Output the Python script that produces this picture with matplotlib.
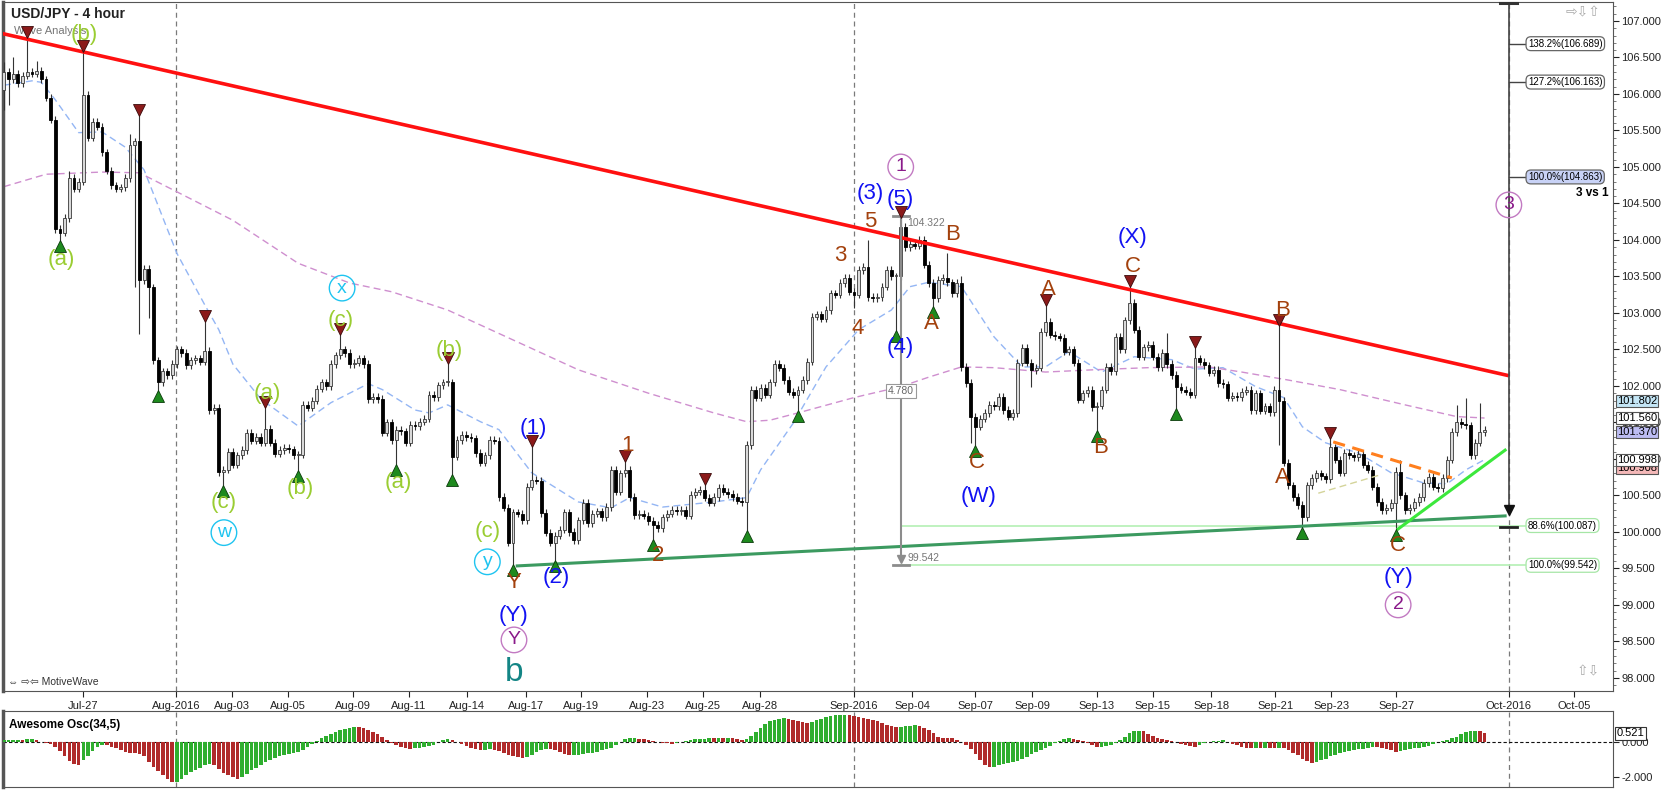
import numpy as np
import matplotlib
matplotlib.use('Agg')
import matplotlib.pyplot as plt
from matplotlib.ticker import FormatStrFormatter, MultipleLocator
from matplotlib.transforms import blended_transform_factory, offset_copy

## Arial-like face, DejaVu as fallback for the little arrow glyphs
plt.rcParams['font.family'] = ['Liberation Sans', 'DejaVu Sans']

## ---------------- values (4 hour bars) ----------------
first_open = 106.05
closes = [
    106.30, 106.20, 106.28, 106.15, 106.25, 106.30, 106.28, 106.32, 106.20, 105.95,
    105.65, 104.15, 104.10, 104.30, 104.85, 104.70, 104.80, 105.99, 105.40, 105.62,
    105.55, 105.20, 104.95, 104.75, 104.70, 104.72, 104.85, 105.30, 105.35, 103.45,
    103.60, 103.35, 102.35, 102.05, 102.20, 102.15, 102.30, 102.50, 102.45, 102.28,
    102.35, 102.38, 102.33, 102.48, 101.67, 101.70, 100.82, 100.85, 101.10, 100.92,
    101.05, 101.12, 101.36, 101.25, 101.30, 101.22, 101.41, 101.22, 101.07, 101.12,
    101.15, 101.13, 101.05, 101.06, 101.74, 101.70, 101.80, 101.96, 102.05, 102.00,
    102.30, 102.42, 102.50, 102.45, 102.30, 102.32, 102.38, 102.30, 101.82, 101.85,
    101.82, 101.36, 101.50, 101.26, 101.40, 101.38, 101.22, 101.47, 101.45, 101.51,
    101.55, 101.88, 101.85, 102.01, 102.05, 102.05, 101.03, 101.26, 101.33, 101.30,
    101.28, 101.08, 100.95, 101.05, 101.26, 101.25, 100.48, 100.33, 99.85, 100.27,
    100.25, 100.16, 100.62, 100.71, 100.70, 100.26, 99.99, 99.85, 99.95, 100.03,
    100.27, 100.00, 99.89, 100.16, 100.40, 100.12, 100.25, 100.28, 100.20, 100.34,
    100.85, 100.55, 100.80, 100.85, 100.48, 100.23, 100.25, 100.22, 100.15, 100.10,
    100.05, 100.20, 100.25, 100.30, 100.28, 100.30, 100.22, 100.51, 100.55, 100.58,
    100.47, 100.40, 100.48, 100.60, 100.55, 100.52, 100.48, 100.43, 100.41, 101.19,
    101.95, 101.84, 101.97, 101.88, 102.05, 102.30, 102.25, 102.08, 101.92, 101.88,
    101.95, 102.08, 102.33, 102.95, 102.98, 102.92, 103.04, 103.27, 103.25, 103.41,
    103.48, 103.29, 103.25, 103.59, 103.63, 103.22, 103.20, 103.22, 103.36, 103.59,
    103.50, 103.50, 104.18, 103.90, 103.95, 103.92, 104.00, 103.66, 103.41, 103.20,
    103.45, 103.48, 103.42, 103.27, 103.41, 102.26, 102.04, 101.58, 101.44, 101.55,
    101.63, 101.74, 101.72, 101.85, 101.67, 101.58, 101.63, 102.32, 102.52, 102.32,
    102.22, 102.25, 102.74, 102.88, 102.70, 102.68, 102.66, 102.47, 102.50, 102.32,
    101.81, 101.90, 101.95, 101.71, 101.73, 101.95, 102.26, 102.20, 102.67, 102.50,
    102.90, 103.14, 102.77, 102.40, 102.53, 102.56, 102.40, 102.26, 102.45, 102.30,
    102.15, 101.99, 101.95, 101.92, 101.88, 102.38, 102.33, 102.28, 102.18, 102.22,
    102.04, 102.02, 101.84, 101.86, 101.85, 101.92, 101.95, 101.67, 101.90, 101.66,
    101.72, 101.64, 101.95, 101.80, 100.95, 100.64, 100.48, 100.37, 100.20, 100.64,
    100.74, 100.80, 100.76, 100.72, 101.16, 100.99, 100.81, 101.08, 101.05, 101.02,
    101.07, 100.92, 100.85, 100.62, 100.41, 100.30, 100.33, 100.40, 100.82, 100.50,
    100.30, 100.33, 100.41, 100.48, 100.67, 100.75, 100.62, 100.60, 100.74, 100.99,
    101.37, 101.51, 101.48, 101.46, 101.05, 101.22, 101.37, 101.40,
]

## long wicks that stand out (bar index: price)
high_wicks = {0: 106.44, 2: 106.50, 5: 106.79, 7: 106.45, 14: 104.95, 17: 106.60,
              27: 105.45, 29: 105.72, 43: 102.90, 56: 101.72, 72: 102.72, 95: 102.32,
              113: 101.18, 130: 100.87, 133: 100.98, 150: 100.66, 160: 102.00,
              173: 103.00, 185: 104.00, 192: 104.32, 202: 103.82, 205: 103.50,
              223: 103.12, 241: 103.38, 249: 102.72, 255: 102.54, 273: 102.84,
              284: 101.30, 298: 100.89, 299: 100.99, 311: 101.74, 313: 101.84, 316: 101.77}
low_wicks = {0: 105.78, 1: 105.85, 12: 103.98, 28: 103.36, 29: 102.71, 31: 102.93,
             33: 101.92, 47: 100.62, 63: 100.82, 84: 100.91, 96: 100.77, 109: 99.54,
             118: 99.59, 139: 99.88, 159: 100.01, 170: 101.65, 182: 103.07, 191: 102.75,
             199: 103.08, 207: 101.22, 208: 101.17, 220: 101.99, 234: 101.38, 251: 101.68,
             273: 101.19, 278: 100.05, 298: 100.02}

## moving averages, read at a number of bars
fast_ma_bar = [0, 6, 8, 11, 16, 21, 26, 30, 37, 43, 46, 49, 55, 63, 70, 78, 81, 88, 91, 95,
               102, 106, 113, 123, 130, 134, 141, 152, 159, 162, 169, 176, 183, 190, 194, 198,
               205, 212, 218, 223, 228, 235, 242, 250, 255, 261, 268, 274, 278, 283, 290, 297,
               304, 309, 313, 317]
fast_ma = [106.12, 106.18, 106.16, 105.92, 105.47, 105.48, 105.27, 104.96, 103.82, 103.11,
           102.77, 102.30, 101.82, 101.45, 101.77, 102.03, 101.95, 101.67, 101.63, 101.74,
           101.51, 101.40, 100.81, 100.41, 100.33, 100.47, 100.34, 100.41, 100.47, 100.85,
           101.49, 102.26, 102.77, 103.04, 103.36, 103.42, 103.36, 102.67, 102.26, 102.26,
           102.47, 102.19, 102.40, 102.36, 102.23, 102.25, 101.99, 101.84, 101.44, 101.22,
           101.08, 100.81, 100.67, 100.66, 100.85, 100.99]
slow_ma_bar = [0, 9, 21, 29, 37, 49, 63, 74, 83, 95, 109, 123, 138, 152, 159, 164, 170, 182,
               192, 198, 205, 212, 223, 233, 245, 258, 265, 275, 286, 300, 311, 317]
slow_ma = [104.73, 104.90, 104.93, 104.92, 104.66, 104.27, 103.68, 103.41, 103.29, 103.04,
           102.63, 102.22, 101.90, 101.63, 101.51, 101.53, 101.63, 101.84, 101.99, 102.12,
           102.26, 102.25, 102.19, 102.22, 102.25, 102.26, 102.19, 102.08, 101.95, 101.74,
           101.58, 101.56]

## Awesome Oscillator (34,5), one value per bar
awesome = [
    0.12, 0.14, 0.15, 0.16, 0.15, 0.18, 0.20, 0.15, 0.05, -0.03,
    -0.12, -0.28, -0.52, -0.80, -1.06, -1.24, -1.33, -1.05, -0.78, -0.52,
    -0.28, -0.15, -0.17, -0.24, -0.33, -0.43, -0.55, -0.61, -0.64, -0.70,
    -0.78, -1.12, -1.43, -1.68, -1.92, -2.15, -2.32, -2.28, -2.10, -1.88,
    -1.72, -1.60, -1.47, -1.34, -1.23, -1.32, -1.55, -1.78, -1.92, -2.03,
    -2.12, -2.02, -1.85, -1.63, -1.47, -1.30, -1.14, -1.01, -0.89, -0.79,
    -0.74, -0.68, -0.62, -0.57, -0.46, -0.28, -0.10, 0.06, 0.23, 0.38,
    0.49, 0.58, 0.69, 0.79, 0.85, 0.88, 0.87, 0.82, 0.70, 0.58,
    0.47, 0.29, 0.11, -0.02, -0.16, -0.27, -0.33, -0.36, -0.34, -0.31,
    -0.29, -0.22, -0.14, 0.00, 0.12, 0.19, 0.14, 0.01, -0.12, -0.22,
    -0.30, -0.38, -0.43, -0.42, -0.41, -0.42, -0.48, -0.60, -0.72, -0.80,
    -0.86, -0.88, -0.83, -0.72, -0.58, -0.47, -0.38, -0.40, -0.45, -0.56,
    -0.68, -0.75, -0.74, -0.71, -0.66, -0.62, -0.59, -0.54, -0.47, -0.40,
    -0.31, -0.15, 0.02, 0.17, 0.25, 0.27, 0.21, 0.17, 0.13, 0.09,
    0.04, -0.02, -0.06, -0.07, -0.01, 0.05, 0.10, 0.14, 0.17, 0.20,
    0.22, 0.24, 0.23, 0.25, 0.24, 0.25, 0.24, 0.21, 0.14, 0.20,
    0.35, 0.58, 0.85, 1.08, 1.22, 1.31, 1.37, 1.41, 1.38, 1.32,
    1.26, 1.18, 1.13, 1.20, 1.28, 1.37, 1.46, 1.52, 1.56, 1.59,
    1.61, 1.60, 1.55, 1.47, 1.41, 1.37, 1.32, 1.24, 1.14, 1.02,
    0.93, 0.88, 0.92, 0.94, 0.96, 0.98, 0.95, 0.84, 0.70, 0.52,
    0.34, 0.26, 0.25, 0.24, 0.16, 0.02, -0.15, -0.40, -0.69, -1.05,
    -1.33, -1.45, -1.43, -1.33, -1.25, -1.18, -1.14, -1.08, -0.97, -0.83,
    -0.70, -0.58, -0.45, -0.32, -0.20, -0.06, 0.07, 0.18, 0.23, 0.18,
    0.14, 0.07, -0.04, -0.15, -0.28, -0.27, -0.20, -0.13, -0.02, 0.12,
    0.33, 0.52, 0.64, 0.68, 0.65, 0.50, 0.37, 0.24, 0.17, 0.11,
    0.06, 0.00, -0.07, -0.13, -0.20, -0.25, -0.17, -0.06, 0.02, 0.08,
    0.10, 0.11, 0.01, -0.09, -0.18, -0.27, -0.31, -0.32, -0.31, -0.32,
    -0.31, -0.32, -0.33, -0.31, -0.34, -0.46, -0.60, -0.76, -0.94, -1.08,
    -1.17, -1.12, -1.03, -0.94, -0.82, -0.73, -0.63, -0.56, -0.50, -0.45,
    -0.40, -0.36, -0.30, -0.24, -0.25, -0.30, -0.38, -0.47, -0.54, -0.52,
    -0.45, -0.39, -0.35, -0.32, -0.28, -0.19, -0.09, 0.02, 0.09, 0.16,
    0.24, 0.34, 0.46, 0.58, 0.66, 0.68, 0.64, 0.521,
]

## date axis (bar index of each label)
date_bars = [16.9, 36.8, 48.8, 60.8, 74.7, 86.7, 99.1, 111.8, 123.6, 137.7, 149.7, 161.9,
             182.0, 194.4, 207.9, 220.1, 234.0, 246.0, 258.5, 272.2, 284.2, 298.1, 322.2, 336.2]
date_labels = ['Jul-27', 'Aug-2016', 'Aug-03', 'Aug-05', 'Aug-09', 'Aug-11', 'Aug-14',
               'Aug-17', 'Aug-19', 'Aug-23', 'Aug-25', 'Aug-28', 'Sep-2016', 'Sep-04',
               'Sep-07', 'Sep-09', 'Sep-13', 'Sep-15', 'Sep-18', 'Sep-21', 'Sep-23',
               'Sep-27', 'Oct-2016', 'Oct-05']
month_bars = [36.8, 182.0, 322.2]

## swing markers
top_marks = [5, 17, 29, 43, 56, 72, 95, 113, 133, 150, 192, 223, 241, 255, 273, 284]
bottom_marks = [12, 33, 47, 63, 84, 96, 109, 118, 139, 159, 170, 191, 199, 208, 234, 251, 278, 298]

## fibonacci projection / retracement
fib_names = ['138.2%', '127.2%', '100.0%']
fib_levels = [106.689, 106.163, 104.863]
retr_names = ['88.6%', '100.0%']
retr_levels = [100.087, 99.542]
swing_hi = 104.322
swing_lo = 99.542

## trend lines: (bar0, price0, bar1, price1)
red_line = [-0.9, 106.836, 322.2, 102.14]
support_line = [109.9, 99.534, 321.4, 100.219]
rising_line = [298.5, 100.04, 321.4, 101.12]
orange_line = [284.6, 101.233, 310.0, 100.74]
olive_line = [281.4, 100.53, 294.6, 100.78]

## price tags on the right axis
tag_values = ['100.908', '100.998', '101.802', '101.560', '101.370']
tag_prices = [100.87, 100.99, 101.79, 101.56, 101.37]
tag_colors = ['#f4b8b8', 'white', '#c4e6f6', 'white', '#bcbcf2']

## ---------------- wave labels ----------------
YG = '#9acd32'
CY = '#1ec4f0'
BR = '#a3410d'
BL = '#1212f2'
PU = '#8a1a8a'
wave_text = [
    ('(b)', 17.1, 106.81, YG), ('(a)', 12.2, 103.73, YG), ('(c)', 47.1, 100.40, YG),
    ('(a)', 56.3, 101.90, YG), ('(b)', 63.4, 100.59, YG), ('(c)', 72.2, 102.90, YG),
    ('(a)', 84.4, 100.68, YG), ('(b)', 95.3, 102.49, YG), ('(c)', 103.6, 100.00, YG),
    ('Y', 109.2, 99.30, BR), ('(Y)', 109.2, 98.86, BL),
    ('(1)', 113.3, 101.42, BL), ('(2)', 118.2, 99.37, BL),
    ('1', 133.4, 101.19, BR), ('2', 140.0, 99.68, BR),
    ('3', 179.0, 103.79, BR), ('4', 182.7, 102.79, BR), ('5', 185.4, 104.25, BR),
    ('(3)', 185.4, 104.64, BL), ('(5)', 191.9, 104.56, BL), ('(4)', 191.9, 102.53, BL),
    ('A', 198.5, 102.86, BR), ('B', 203.0, 104.07, BR), ('C', 208.3, 100.95, BR),
    ('(W)', 208.6, 100.48, BL), ('A', 223.6, 103.32, BR), ('B', 234.7, 101.16, BR),
    ('C', 241.7, 103.63, BR), ('(X)', 241.7, 104.03, BL),
    ('B', 273.7, 103.04, BR), ('A', 273.7, 100.74, BR), ('C', 298.5, 99.82, BR),
    ('(Y)', 298.5, 99.37, BL),
]
wave_circled = [
    ('w', 47.1, 99.99, CY, CY), ('x', 72.4, 103.34, CY, CY), ('y', 103.5, 99.59, CY, CY),
    ('Y', 109.2, 98.52, PU, '#c27ac2'), ('1', 192.0, 105.00, PU, '#c27ac2'),
    ('2', 298.5, 99.00, PU, '#c27ac2'), ('3', 322.2, 104.48, PU, '#c27ac2'),
]

## ---------------- figure layout ----------------
W, H = 1668, 790
fig = plt.figure(figsize=(W / 100, H / 100), dpi=100)

def px_box(l, t, r, b):
    return [l / W, 1 - b / H, (r - l) / W, (b - t) / H]

ax = fig.add_axes(px_box(3, 2, 1613, 691))
ao_ax = fig.add_axes(px_box(3, 711, 1613, 787))

x_lo, x_hi = -0.2, 344.5
ax.set_xlim(x_lo, x_hi)
ax.set_ylim(97.82, 107.26)
ao_ax.set_xlim(x_lo, x_hi)
ao_ax.set_ylim(-2.59, 1.82)

## ---------------- candles ----------------
c = np.array(closes)
o = np.array([first_open] + closes[:-1])
bars = np.arange(len(c))
hi = np.maximum(o, c) + 0.05
lo = np.minimum(o, c) - 0.05
for k, v in high_wicks.items():
    hi[k] = max(hi[k], v)
for k, v in low_wicks.items():
    lo[k] = min(lo[k], v)
up = c >= o
ax.vlines(bars, lo, hi, color='#333333', lw=0.8, zorder=3)
body = np.maximum(np.abs(c - o), 0.015)
ax.bar(bars[up], body[up], bottom=o[up], width=0.62, color='#d9d9d9',
       edgecolor='#3a3a3a', lw=0.6, zorder=4)
ax.bar(bars[~up], body[~up], bottom=c[~up], width=0.62, color='black',
       edgecolor='black', lw=0.6, zorder=4)

## moving averages
ax.plot(fast_ma_bar, fast_ma, color='#94b6f4', lw=1.0, ls=(0, (5, 3)), zorder=2)
ax.plot(slow_ma_bar, slow_ma, color='#cf8fcf', lw=1.0, ls=(0, (5, 3)), zorder=2)

## month separators
for mb in month_bars:
    ax.axvline(mb, color='#7a7a7a', lw=0.9, ls=(0, (4, 3)), zorder=1)
    ao_ax.axvline(mb, color='#7a7a7a', lw=0.9, ls=(0, (4, 3)), zorder=1)

## trend lines
ax.plot(red_line[0::2], red_line[1::2], color='#ff1010', lw=2.6, zorder=6, solid_capstyle='butt')
ax.plot(support_line[0::2], support_line[1::2], color='#3c9a60', lw=2.2, zorder=6)
ax.plot(rising_line[0::2], rising_line[1::2], color='#3ce83c', lw=2.2, zorder=6)
ax.plot(orange_line[0::2], orange_line[1::2], color='#ff7f1e', lw=2.2, ls=(0, (4, 2.5)), zorder=6)
ax.plot(olive_line[0::2], olive_line[1::2], color='#d4d49a', lw=1.0, ls=(0, (5, 3)), zorder=5)

## swing markers (tip sits on the wick end)
up_shift = offset_copy(ax.transData, fig=fig, y=3.2, units='points')
dn_shift = offset_copy(ax.transData, fig=fig, y=-3.2, units='points')
ax.plot(top_marks, hi[top_marks], 'v', color='#8b1a1a', mec='#3a0a0a', mew=0.6, ms=8,
        transform=up_shift, zorder=7)
ax.plot(bottom_marks, lo[bottom_marks], '^', color='#1e8a1e', mec='#0a3a0a', mew=0.6, ms=8,
        transform=dn_shift, zorder=7)

## wave labels
for t, xb, yp, col in wave_text:
    ax.text(xb, yp, t, color=col, fontsize=16, ha='center', va='center', zorder=8)
for t, xb, yp, col, ring in wave_circled:
    ax.text(xb, yp, t, color=col, fontsize=14, ha='center', va='center', zorder=8,
            bbox=dict(boxstyle='circle,pad=0.22', fc='none', ec=ring, lw=1.0))
ax.text(109.2, 98.08, 'b', color='#138585', fontsize=24, ha='center', va='center', zorder=8)

## measured move from the (5) high to the (Y) low
ax.plot([192, 192], [swing_lo + 0.07, swing_hi], color='#8c8c8c', lw=1.5, zorder=6)
ax.plot([192], [swing_lo + 0.08], 'v', color='#8c8c8c', ms=6, zorder=6)
ax.plot([190.3, 193.8], [swing_hi, swing_hi], color='#8c8c8c', lw=2, zorder=6)
ax.plot([190.3, 193.8], [swing_lo, swing_lo], color='#8c8c8c', lw=2, zorder=6)
ax.text(193.4, swing_hi - 0.09, '%.3f' % swing_hi, color='#777777', fontsize=7.5, va='center', zorder=8)
ax.text(193.4, swing_lo + 0.1, '%.3f' % swing_lo, color='#777777', fontsize=7.5, va='center', zorder=8)
ax.text(192, 101.93, '%.3f' % (swing_hi - swing_lo), color='#666666', fontsize=7.5,
        ha='center', va='center', zorder=8,
        bbox=dict(boxstyle='square,pad=0.2', fc='white', ec='#999999', lw=0.8))

## retracement levels
for name, lvl in zip(retr_names, retr_levels):
    ax.plot([192, 325.6], [lvl, lvl], color='#b4f0b4', lw=1.2, zorder=2)
    ax.text(326.3, lvl, '%s(%.3f)' % (name, lvl), fontsize=7, va='center', ha='left', zorder=8,
            bbox=dict(boxstyle='round,pad=0.2,rounding_size=0.5', fc='white', ec='#a6e6a6', lw=0.9))
ax.plot([320.4, 324.0], [100.07, 100.07], color='#222222', lw=2, zorder=7)

## projection for wave 3
ax.plot([322.2, 322.2], [100.27, 107.26], color='#444444', lw=1.2, zorder=6)
ax.plot([322.2], [100.3], 'v', color='#111111', ms=7, zorder=7)
ax.plot([320.4, 324.0], [107.24, 107.24], color='#333333', lw=2.2, zorder=7, clip_on=False)
for name, lvl in zip(fib_names, fib_levels):
    ax.plot([322.2, 326.0], [lvl, lvl], color='#444444', lw=1.0, zorder=6)
    face = '#c8d2f6' if name == '100.0%' else 'white'
    ax.text(326.3, lvl, '%s(%.3f)' % (name, lvl), fontsize=7, va='center', ha='left', zorder=8,
            bbox=dict(boxstyle='round,pad=0.2,rounding_size=0.5', fc=face, ec='#666666', lw=0.9))
ax.text(343.6, 104.64, '3 vs 1', fontsize=8.5, fontweight='bold', ha='right', va='center', zorder=8)

## ---------------- axes cosmetics ----------------
ax.yaxis.tick_right()
ax.set_yticks(np.arange(98.0, 107.01, 0.5))
ax.yaxis.set_major_formatter(FormatStrFormatter('%.3f'))
ax.yaxis.set_minor_locator(MultipleLocator(0.1))
ax.tick_params(axis='y', which='major', direction='out', length=4, labelsize=8, pad=2, colors='#222222')
ax.tick_params(axis='y', which='minor', direction='out', length=2, colors='#666666')
ax.set_xticks(date_bars)
ax.set_xticklabels(date_labels)
ax.tick_params(axis='x', direction='out', length=4, labelsize=8, pad=3, colors='#222222')
for s in ax.spines.values():
    s.set_color('#555555')
ax.spines['left'].set_linewidth(2.5)

ax.text(0.005, 0.983, 'USD/JPY - 4 hour', transform=ax.transAxes, fontsize=10, fontweight='bold',
        ha='left', va='center', color='#222222')
ax.text(0.007, 0.958, 'Wave Analysis', transform=ax.transAxes, fontsize=8, color='#777777',
        ha='left', va='center')
ax.text(0.003, 0.013, '\u21d4 \u21e8\u21e6 MotiveWave', transform=ax.transAxes, fontsize=7.5,
        color='#333333', ha='left', va='center')
ax.text(0.992, 0.985, '\u21e8\u21e9\u21e7', transform=ax.transAxes, fontsize=10,
        color='#aaaaaa', ha='right', va='center')
ax.text(0.992, 0.028, '\u21e7\u21e9', transform=ax.transAxes, fontsize=10,
        color='#aaaaaa', ha='right', va='center')

## right axis price tags
tag_tr = blended_transform_factory(ax.transAxes, ax.transData)
for val, pr, col in zip(tag_values, tag_prices, tag_colors):
    ax.text(1.0025, pr, val, transform=tag_tr, fontsize=8, ha='left', va='center', clip_on=False,
            zorder=9, bbox=dict(boxstyle='square,pad=0.08', fc=col, ec='#555555', lw=0.8))

## ---------------- awesome oscillator ----------------
ao = np.array(awesome)
rising = np.r_[True, ao[1:] > ao[:-1]]
ao_colors = np.where(rising, '#2fae2f', '#b02a2a')
ao_ax.bar(np.arange(len(ao)), ao, width=0.78, color=ao_colors, edgecolor='none', zorder=3)
ao_ax.axhline(0, color='#111111', lw=0.8, ls=(0, (3, 2)), zorder=2)
ao_ax.yaxis.tick_right()
ao_ax.set_yticks([-2, 0])
ao_ax.set_yticklabels(['-2.000', '0.000'])
ao_ax.tick_params(axis='y', direction='out', length=4, labelsize=8, pad=2, colors='#222222')
ao_ax.tick_params(axis='x', bottom=False, labelbottom=False)
for s in ao_ax.spines.values():
    s.set_color('#555555')
ao_ax.spines['left'].set_linewidth(2.5)
ao_ax.text(0.004, 0.82, 'Awesome Osc(34,5)', transform=ao_ax.transAxes, fontsize=8.5,
           fontweight='bold', ha='left', va='center')
ao_tr = blended_transform_factory(ao_ax.transAxes, ao_ax.transData)
ao_ax.text(1.0025, ao[-1], '%.3f' % ao[-1], transform=ao_tr, fontsize=8, ha='left', va='center',
           clip_on=False, zorder=9, bbox=dict(boxstyle='square,pad=0.15', fc='white', ec='#333333', lw=0.8))

fig.savefig('out.png', dpi=100)
